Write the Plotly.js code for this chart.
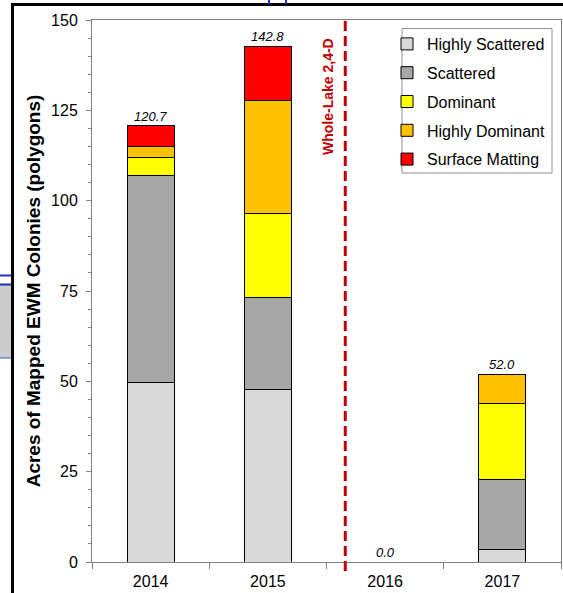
<!DOCTYPE html>
<html>
<head>
<meta charset="utf-8">
<script src="https://cdn.plot.ly/plotly-3.0.1.min.js"></script>
<style>
  html, body { margin: 0; padding: 0; background: #fff; }
  #chart { width: 563px; height: 593px; }
</style>
</head>
<body>
<div id="chart"></div>
<script>
// ---- data ----
const years = ['2014', '2015', '2016', '2017'];
const highlyScattered = [49.8, 47.7, 0, 3.5];
const scattered       = [57.3, 25.6, 0, 19.2];
const dominant        = [4.9, 23.2, 0, 21.2];
const highlyDominant  = [3.1, 31.3, 0, 8.1];
const surfaceMatting  = [5.6, 15.0, 0, 0];
const seriesNames = ['Highly Scattered', 'Scattered', 'Dominant', 'Highly Dominant', 'Surface Matting'];
const treatmentLabel = 'Whole-Lake 2,4-D';
const treatmentX = 1.66;   // between 2015 and 2016 (category units)
const yTitle = 'Acres of Mapped EWM Colonies (polygons)';

// ---- styles ----
const colors = ['#d9d9d9', '#a6a6a6', '#ffff00', '#ffc000', '#ff0000'];
const FONT = '"Liberation Sans", Arial, sans-serif';
const W = 563, H = 593, ML = 92, MR = 2, MT = 20, MB = 31;
const PW = W - ML - MR, PH = H - MT - MB;
const px = v => (v - ML) / PW;          // pixel x -> paper
const py = v => (H - MB - v) / PH;      // pixel y -> paper

const seriesData = [highlyScattered, scattered, dominant, highlyDominant, surfaceMatting];
const traces = seriesData.map((vals, i) => ({
  type: 'bar',
  name: seriesNames[i],
  x: years,
  y: vals,
  width: 0.4,
  legendgroup: 'g' + i,
  marker: { color: colors[i], line: { color: '#000', width: 1 } },
  hoverinfo: 'x+y+name'
}));

const totals = years.map((_, j) => seriesData.reduce((s, arr) => s + arr[j], 0));
const annotations = years.map((yr, j) => ({
  x: j, y: totals[j], xref: 'x', yref: 'y',
  text: '<i>' + totals[j].toFixed(1) + '</i>',
  showarrow: false, yanchor: 'bottom', xanchor: 'center',
  font: { family: FONT, size: 13, color: '#000' }
}));
annotations.push({
  x: px(328), y: py(97), xref: 'paper', yref: 'paper',
  text: '<b>' + treatmentLabel + '</b>', textangle: -90,
  showarrow: false, xanchor: 'center', yanchor: 'middle',
  font: { family: FONT, size: 14, color: '#c00000' }
});

const shapes = [
  // treatment line
  { type: 'line', xref: 'x', yref: 'paper', x0: treatmentX, x1: treatmentX, y0: py(571), y1: py(19),
    line: { color: '#c00000', width: 3, dash: '10px,5px' } },
  // legend frame
  { type: 'rect', xref: 'paper', yref: 'paper', x0: px(402), x1: px(552), y0: py(28.5), y1: py(173),
    fillcolor: '#ffffff', line: { color: '#909090', width: 1 }, layer: 'above' },
  // page frame (black)
  { type: 'line', xref: 'paper', yref: 'paper', x0: px(12.5), x1: px(12.5), y0: py(3.5), y1: py(600),
    line: { color: '#000', width: 3 } },
  { type: 'line', xref: 'paper', yref: 'paper', x0: px(11), x1: px(570), y0: py(4.5), y1: py(4.5),
    line: { color: '#000', width: 3 } },
  // blue artifacts top
  { type: 'line', xref: 'paper', yref: 'paper', x0: px(269), x1: px(269), y0: py(-2), y1: py(4),
    line: { color: '#1f2fbf', width: 2 } },
  { type: 'line', xref: 'paper', yref: 'paper', x0: px(286), x1: px(286), y0: py(-2), y1: py(4),
    line: { color: '#1f2fbf', width: 2 } },
  // left box artifact
  { type: 'rect', xref: 'paper', yref: 'paper', x0: px(-2), x1: px(11), y0: py(285), y1: py(358),
    fillcolor: '#cccccc', line: { width: 0 } },
  { type: 'line', xref: 'paper', yref: 'paper', x0: px(-2), x1: px(11), y0: py(275.5), y1: py(275.5),
    line: { color: '#1f2fbf', width: 2 } },
  { type: 'line', xref: 'paper', yref: 'paper', x0: px(-2), x1: px(11), y0: py(284.5), y1: py(284.5),
    line: { color: '#1f2fbf', width: 2 } },
  { type: 'line', xref: 'paper', yref: 'paper', x0: px(-2), x1: px(11), y0: py(358), y1: py(358),
    line: { color: '#3a5ae0', width: 1 } }
];

const layout = {
  width: W, height: H,
  margin: { l: ML, r: MR, t: MT, b: MB, pad: 0 },
  paper_bgcolor: '#fff', plot_bgcolor: '#fff',
  font: { family: FONT, size: 16, color: '#000' },
  barmode: 'stack',
  showlegend: true,
  legend: {
    x: px(387), y: py(27), xanchor: 'left', yanchor: 'top',
    bgcolor: 'rgba(0,0,0,0)', borderwidth: 0,
    font: { family: FONT, size: 16, color: '#000' },
    traceorder: 'grouped', tracegroupgap: 5
  },
  xaxis: {
    type: 'category', categoryorder: 'array', categoryarray: years,
    range: [-0.5, 3.5],
    showline: true, linecolor: '#808080', linewidth: 1, mirror: true,
    ticks: 'outside', tickson: 'boundaries', ticklen: 6, tickcolor: '#808080',
    showgrid: false, zeroline: false,
    tickfont: { family: FONT, size: 16, color: '#000' },
    ticklabelstandoff: 5
  },
  yaxis: {
    range: [0, 150], dtick: 25, tick0: 0,
    showline: true, linecolor: '#808080', linewidth: 1, mirror: true,
    ticks: 'outside', ticklen: 5, tickcolor: '#808080',
    minor: { dtick: 5, ticks: 'outside', ticklen: 3, tickcolor: '#808080', showgrid: false },
    showgrid: false, zeroline: false,
    tickfont: { family: FONT, size: 16, color: '#000' },
    ticklabelstandoff: 5,
    title: { text: '<b>' + yTitle + '</b>', font: { family: FONT, size: 19, color: '#000' }, standoff: 5 }
  },
  annotations: annotations,
  shapes: shapes
};

Plotly.newPlot('chart', traces, layout, { displayModeBar: false, staticPlot: true });
</script>
</body>
</html>
